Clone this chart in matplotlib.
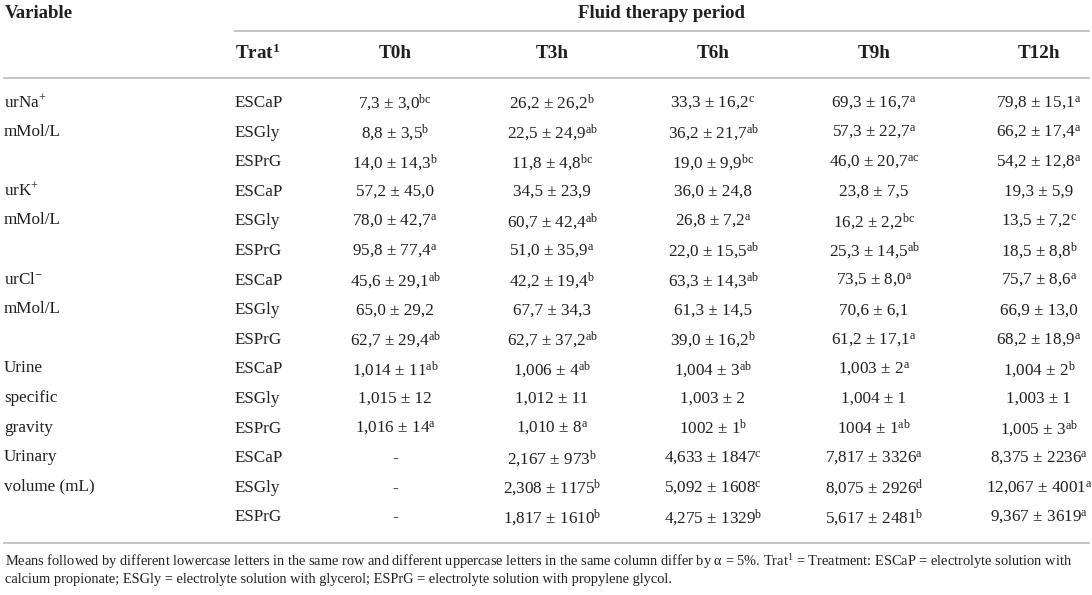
import matplotlib
matplotlib.use("Agg")
import matplotlib.pyplot as plt

plt.rcParams['font.family'] = ['Liberation Serif', 'DejaVu Serif']
plt.rcParams['mathtext.fontset'] = 'custom'
plt.rcParams['mathtext.rm'] = 'Liberation Serif'
plt.rcParams['mathtext.bf'] = 'Liberation Serif:bold'
plt.rcParams['mathtext.it'] = 'Liberation Serif:italic'

# table content
times = ["T0h", "T3h", "T6h", "T9h", "T12h"]
treatments = ["ESCaP", "ESGly", "ESPrG"]
var_labels = [
    ["urNa$^{+}$", "mMol/L"],
    ["urK$^{+}$", "mMol/L"],
    ["urCl$^{-}$", "mMol/L"],
    ["Urine", "specific", "gravity"],
    ["Urinary", "volume (mL)"],
]

na_vals = [["7,3 ± 3,0", "26,2 ± 26,2", "33,3 ± 16,2", "69,3 ± 16,7", "79,8 ± 15,1"],
           ["8,8 ± 3,5", "22,5 ± 24,9", "36,2 ± 21,7", "57,3 ± 22,7", "66,2 ± 17,4"],
           ["14,0 ± 14,3", "11,8 ± 4,8", "19,0 ± 9,9", "46,0 ± 20,7", "54,2 ± 12,8"]]
na_sup = [["bc", "b", "c", "a", "a"],
          ["b", "ab", "ab", "a", "a"],
          ["b", "bc", "bc", "ac", "a"]]

k_vals = [["57,2 ± 45,0", "34,5 ± 23,9", "36,0 ± 24,8", "23,8 ± 7,5", "19,3 ± 5,9"],
          ["78,0 ± 42,7", "60,7 ± 42,4", "26,8 ± 7,2", "16,2 ± 2,2", "13,5 ± 7,2"],
          ["95,8 ± 77,4", "51,0 ± 35,9", "22,0 ± 15,5", "25,3 ± 14,5", "18,5 ± 8,8"]]
k_sup = [["", "", "", "", ""],
         ["a", "ab", "a", "bc", "c"],
         ["a", "a", "ab", "ab", "b"]]

cl_vals = [["45,6 ± 29,1", "42,2 ± 19,4", "63,3 ± 14,3", "73,5 ± 8,0", "75,7 ± 8,6"],
           ["65,0 ± 29,2", "67,7 ± 34,3", "61,3 ± 14,5", "70,6 ± 6,1", "66,9 ± 13,0"],
           ["62,7 ± 29,4", "62,7 ± 37,2", "39,0 ± 16,2", "61,2 ± 17,1", "68,2 ± 18,9"]]
cl_sup = [["ab", "b", "ab", "a", "a"],
          ["", "", "", "", ""],
          ["ab", "ab", "b", "a", "a"]]

sg_vals = [["1,014 ± 11", "1,006 ± 4", "1,004 ± 3", "1,003 ± 2", "1,004 ± 2"],
           ["1,015 ± 12", "1,012 ± 11", "1,003 ± 2", "1,004 ± 1", "1,003 ± 1"],
           ["1,016 ± 14", "1,010 ± 8", "1002 ± 1", "1004 ± 1", "1,005 ± 3"]]
sg_sup = [["ab", "ab", "ab", "a", "b"],
          ["", "", "", "", ""],
          ["a", "a", "b", "ab", "ab"]]

uv_vals = [["-", "2,167 ± 973", "4,633 ± 1847", "7,817 ± 3326", "8,375 ± 2236"],
           ["-", "2,308 ± 1175", "5,092 ± 1608", "8,075 ± 2926", "12,067 ± 4001"],
           ["-", "1,817 ± 1610", "4,275 ± 1329", "5,617 ± 2481", "9,367 ± 3619"]]
uv_sup = [["", "b", "c", "a", "a"],
          ["", "b", "c", "d", "a"],
          ["", "b", "b", "b", "a"]]

all_vals = [na_vals, k_vals, cl_vals, sg_vals, uv_vals]
all_sup = [na_sup, k_sup, cl_sup, sg_sup, uv_sup]

footnote = ["Means followed by different lowercase letters in the same row and different uppercase letters "
            "in the same column differ by α = 5%. Trat$^{1}$ = Treatment: ESCaP = electrolyte solution with",
            "calcium propionate; ESGly = electrolyte solution with glycerol; ESPrG = electrolyte solution "
            "with propylene glycol."]

ink = '#231f20'
rule = '#c4c4c4'

fig = plt.figure(figsize=(10.92, 5.95), dpi=100)
ax = fig.add_axes([0, 0, 1, 1])
ax.set_xlim(0, 1092)
ax.set_ylim(595, 0)
ax.axis('off')

col_x = [395, 552, 713, 874, 1039]
trat_x = 235
row0, dy = 103, 29.6
body = 12.3

# header
ax.text(5, 13, "Variable", fontsize=13.5, fontweight='bold', color=ink, va='center')
ax.text(662, 13, "Fluid therapy period", fontsize=13.5, fontweight='bold', color=ink,
        va='center', ha='center')
ax.plot([235, 1089], [31, 31], color=rule, lw=1.4)
ax.text(trat_x, 53, r"Trat$^{\mathbf{1}}$", fontsize=13.8, fontweight='bold', color=ink, va='center')
for x, t in zip(col_x, times):
    ax.text(x, 53, t, fontsize=13.8, fontweight='bold', color=ink, va='center', ha='center')
ax.plot([4, 1089], [78, 78], color=rule, lw=1.4)

# body
for g in range(len(var_labels)):
    for j, lab in enumerate(var_labels[g]):
        ax.text(4, row0 + (3 * g + j) * dy - 1, lab, fontsize=body, color=ink, va='center')
    for i, tr in enumerate(treatments):
        y = row0 + (3 * g + i) * dy
        ax.text(trat_x, y, tr, fontsize=body, color=ink, va='center')
        for c in range(len(times)):
            s = all_vals[g][i][c]
            sup = all_sup[g][i][c]
            if sup:
                s = s + r"$^{\mathrm{%s}}$" % sup
            ax.text(col_x[c], y, s, fontsize=body, color=ink, va='center', ha='center')

ax.plot([4, 1089], [543, 543], color=rule, lw=1.4)
ax.text(5, 562, footnote[0], fontsize=10.4, color=ink, va='center')
ax.text(5, 580, footnote[1], fontsize=10.4, color=ink, va='center')

fig.savefig("out.png", dpi=100)
